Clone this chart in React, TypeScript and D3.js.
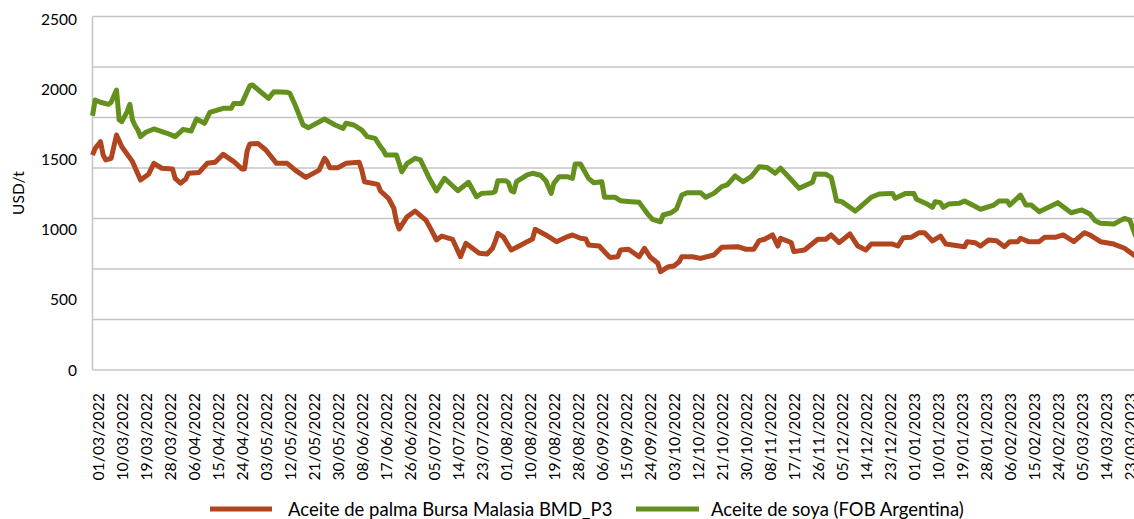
import React from "react";
import * as d3 from "d3";

const palmDates = ["2022-03-01","2022-03-02","2022-03-04","2022-03-05","2022-03-06","2022-03-08","2022-03-10","2022-03-12","2022-03-16","2022-03-19","2022-03-22","2022-03-24","2022-03-27","2022-03-31","2022-04-01","2022-04-03","2022-04-05","2022-04-06","2022-04-10","2022-04-13","2022-04-16","2022-04-19","2022-04-23","2022-04-26","2022-04-27","2022-04-28","2022-04-29","2022-05-02","2022-05-05","2022-05-09","2022-05-13","2022-05-16","2022-05-20","2022-05-25","2022-05-27","2022-05-28","2022-05-29","2022-06-01","2022-06-04","2022-06-09","2022-06-10","2022-06-11","2022-06-16","2022-06-17","2022-06-20","2022-06-22","2022-06-23","2022-06-24","2022-06-27","2022-06-30","2022-07-04","2022-07-06","2022-07-08","2022-07-10","2022-07-14","2022-07-17","2022-07-19","2022-07-24","2022-07-27","2022-07-29","2022-07-30","2022-07-31","2022-08-02","2022-08-05","2022-08-08","2022-08-11","2022-08-13","2022-08-14","2022-08-18","2022-08-22","2022-08-26","2022-08-28","2022-08-31","2022-09-02","2022-09-03","2022-09-07","2022-09-11","2022-09-14","2022-09-15","2022-09-18","2022-09-22","2022-09-24","2022-09-26","2022-09-29","2022-09-30","2022-10-03","2022-10-05","2022-10-07","2022-10-08","2022-10-12","2022-10-15","2022-10-20","2022-10-23","2022-10-29","2022-11-01","2022-11-04","2022-11-06","2022-11-08","2022-11-11","2022-11-13","2022-11-14","2022-11-18","2022-11-19","2022-11-23","2022-11-28","2022-12-01","2022-12-03","2022-12-06","2022-12-10","2022-12-13","2022-12-16","2022-12-18","2022-12-26","2022-12-28","2022-12-30","2023-01-02","2023-01-05","2023-01-07","2023-01-10","2023-01-13","2023-01-15","2023-01-22","2023-01-23","2023-01-26","2023-01-28","2023-01-31","2023-02-03","2023-02-06","2023-02-08","2023-02-11","2023-02-12","2023-02-15","2023-02-19","2023-02-21","2023-02-25","2023-02-28","2023-03-04","2023-03-08","2023-03-10","2023-03-14","2023-03-19","2023-03-23","2023-03-27","2023-03-28"];
const palmValues = [1531,1579,1626,1531,1496,1508,1674,1590,1484,1353,1394,1472,1437,1432,1365,1330,1360,1401,1407,1472,1479,1536,1484,1432,1432,1560,1610,1614,1567,1472,1472,1424,1372,1424,1508,1484,1441,1441,1472,1479,1424,1341,1322,1275,1223,1152,1056,1004,1092,1132,1068,1000,926,954,931,807,902,831,826,867,914,973,949,855,883,914,933,1002,962,914,949,962,938,933,890,883,802,807,855,860,807,867,807,760,700,736,741,771,807,807,795,819,874,878,860,860,921,931,962,883,938,908,843,855,931,931,962,907,969,883,855,897,897,883,942,945,978,978,919,954,897,878,914,907,883,926,921,878,914,914,938,914,914,945,945,962,914,978,962,914,897,867,812,800];

const soyDates = ["2022-03-01","2022-03-02","2022-03-04","2022-03-07","2022-03-08","2022-03-10","2022-03-11","2022-03-12","2022-03-14","2022-03-15","2022-03-16","2022-03-17","2022-03-18","2022-03-19","2022-03-21","2022-03-24","2022-03-29","2022-04-01","2022-04-04","2022-04-07","2022-04-09","2022-04-12","2022-04-14","2022-04-19","2022-04-22","2022-04-23","2022-04-26","2022-04-29","2022-04-30","2022-05-03","2022-05-06","2022-05-08","2022-05-13","2022-05-14","2022-05-16","2022-05-19","2022-05-21","2022-05-27","2022-05-31","2022-06-03","2022-06-04","2022-06-07","2022-06-10","2022-06-12","2022-06-15","2022-06-17","2022-06-18","2022-06-19","2022-06-23","2022-06-25","2022-06-27","2022-06-30","2022-07-02","2022-07-05","2022-07-08","2022-07-11","2022-07-13","2022-07-16","2022-07-20","2022-07-23","2022-07-25","2022-07-29","2022-07-30","2022-07-31","2022-08-03","2022-08-04","2022-08-05","2022-08-06","2022-08-07","2022-08-11","2022-08-13","2022-08-16","2022-08-18","2022-08-20","2022-08-21","2022-08-23","2022-08-26","2022-08-28","2022-08-29","2022-08-31","2022-09-03","2022-09-05","2022-09-08","2022-09-09","2022-09-13","2022-09-15","2022-09-19","2022-09-22","2022-09-25","2022-09-27","2022-09-30","2022-10-01","2022-10-04","2022-10-06","2022-10-08","2022-10-10","2022-10-15","2022-10-17","2022-10-20","2022-10-23","2022-10-25","2022-10-28","2022-10-31","2022-11-03","2022-11-06","2022-11-09","2022-11-12","2022-11-14","2022-11-17","2022-11-21","2022-11-26","2022-11-27","2022-12-01","2022-12-03","2022-12-04","2022-12-05","2022-12-07","2022-12-12","2022-12-14","2022-12-18","2022-12-21","2022-12-26","2022-12-27","2022-12-31","2023-01-03","2023-01-04","2023-01-08","2023-01-10","2023-01-11","2023-01-13","2023-01-14","2023-01-16","2023-01-20","2023-01-22","2023-01-25","2023-01-28","2023-02-02","2023-02-04","2023-02-07","2023-02-08","2023-02-12","2023-02-14","2023-02-16","2023-02-19","2023-02-26","2023-03-03","2023-03-07","2023-03-10","2023-03-12","2023-03-14","2023-03-19","2023-03-23","2023-03-25","2023-03-27","2023-03-28"];
const soyValues = [1811,1923,1907,1892,1907,1994,1781,1769,1840,1892,1781,1740,1709,1662,1693,1717,1686,1662,1714,1702,1788,1757,1835,1864,1864,1899,1899,2025,2030,1982,1935,1982,1978,1971,1887,1745,1726,1788,1745,1721,1757,1745,1709,1662,1650,1590,1567,1531,1531,1412,1472,1508,1496,1377,1275,1365,1330,1277,1337,1234,1258,1263,1272,1348,1348,1334,1277,1268,1341,1389,1401,1387,1348,1258,1330,1377,1377,1365,1467,1467,1365,1334,1341,1230,1230,1206,1199,1194,1116,1073,1056,1104,1120,1147,1246,1263,1263,1230,1258,1306,1318,1382,1341,1377,1448,1443,1401,1437,1377,1294,1337,1396,1394,1372,1294,1206,1199,1132,1163,1230,1254,1258,1223,1258,1258,1216,1182,1159,1199,1192,1159,1182,1187,1204,1175,1145,1175,1204,1204,1175,1246,1175,1175,1128,1192,1120,1140,1111,1063,1045,1040,1080,1068,962,930];

const xTickLabels = ["01/03/2022","10/03/2022","19/03/2022","28/03/2022","06/04/2022","15/04/2022","24/04/2022","03/05/2022","12/05/2022","21/05/2022","30/05/2022","08/06/2022","17/06/2022","26/06/2022","05/07/2022","14/07/2022","23/07/2022","01/08/2022","10/08/2022","19/08/2022","28/08/2022","06/09/2022","15/09/2022","24/09/2022","03/10/2022","12/10/2022","21/10/2022","30/10/2022","08/11/2022","17/11/2022","26/11/2022","05/12/2022","14/12/2022","23/12/2022","01/01/2023","10/01/2023","19/01/2023","28/01/2023","06/02/2023","15/02/2023","24/02/2023","05/03/2023","14/03/2023","23/03/2023"];
const yTickValues = [0, 500, 1000, 1500, 2000, 2500];
const gridDivisions = 7;

const seriesNames = ["Aceite de palma Bursa Malasia BMD_P3", "Aceite de soya (FOB Argentina)"];
const seriesColors = ["#B0451F", "#64901E"];

const W = 1134;
const H = 519;
const FONT = "Lato, 'Open Sans', sans-serif";

const parseIso = d3.utcParse("%Y-%m-%d");
const parseTick = d3.utcParse("%d/%m/%Y");

export default function App() {
  const x = d3
    .scaleUtc()
    .domain([parseIso("2022-03-01")!, parseIso("2023-03-23")!])
    .range([92.5, 92.5 + 387 * (24 / 9)]);
  const y = d3.scaleLinear().domain([0, 2500]).range([370, 19]);
  const gridTop = y.invert(16.5);
  const gridValues = d3.range(gridDivisions + 1).map((i) => (i * gridTop) / gridDivisions);

  const line = d3
    .line<[Date, number]>()
    .x((d) => x(d[0]))
    .y((d) => y(d[1]));

  const palm: [Date, number][] = palmDates.map((d, i) => [parseIso(d)!, palmValues[i]]);
  const soy: [Date, number][] = soyDates.map((d, i) => [parseIso(d)!, soyValues[i]]);

  const plotLeft = x(parseIso("2022-03-01")!);

  return (
    <svg
      width={W}
      height={H}
      style={{ position: "absolute", left: 0, top: 0, background: "#fff", overflow: "hidden" }}
      fontFamily={FONT}
    >
      <rect x={0} y={0} width={W} height={H} fill="#fff" />
      {gridValues.map((v, i) => (
        <line key={"g" + i} x1={plotLeft} x2={W} y1={y(v)} y2={y(v)} stroke="#C4C4C4" strokeWidth={1.5} />
      ))}
      <line x1={plotLeft} x2={plotLeft} y1={y(gridTop)} y2={y(0)} stroke="#C4C4C4" strokeWidth={1.5} />
      {yTickValues.map((v) => (
        <text key={"y" + v} x={77} y={y(v)} dy="0.36em" textAnchor="end" fontSize={15.5} fill="#000">
          {v}
        </text>
      ))}
      <text
        transform={`translate(18.5,193) rotate(-90)`}
        textAnchor="middle"
        dy="0.36em"
        fontSize={15.5}
        fill="#000"
      >
        USD/t
      </text>
      {xTickLabels.map((t) => {
        const tx = x(parseTick(t)!) + 5.5;
        return (
          <text
            key={t}
            transform={`translate(${tx},393) rotate(-90)`}
            textAnchor="end"
            dy="0.36em"
            fontSize={15.8}
            fill="#000"
          >
            {t}
          </text>
        );
      })}
      <path d={line(palm) || ""} fill="none" stroke={seriesColors[0]} strokeWidth={5} strokeLinejoin="round" />
      <path d={line(soy) || ""} fill="none" stroke={seriesColors[1]} strokeWidth={5} strokeLinejoin="round" />
      <g>
        <line x1={210} x2={272} y1={509} y2={509} stroke={seriesColors[0]} strokeWidth={5} />
        <text x={288} y={509} dy="0.36em" fontSize={18.5} fill="#000">
          {seriesNames[0]}
        </text>
        <line x1={636} x2={699} y1={509} y2={509} stroke={seriesColors[1]} strokeWidth={5} />
        <text x={711} y={509} dy="0.36em" fontSize={18.5} fill="#000">
          {seriesNames[1]}
        </text>
      </g>
    </svg>
  );
}
